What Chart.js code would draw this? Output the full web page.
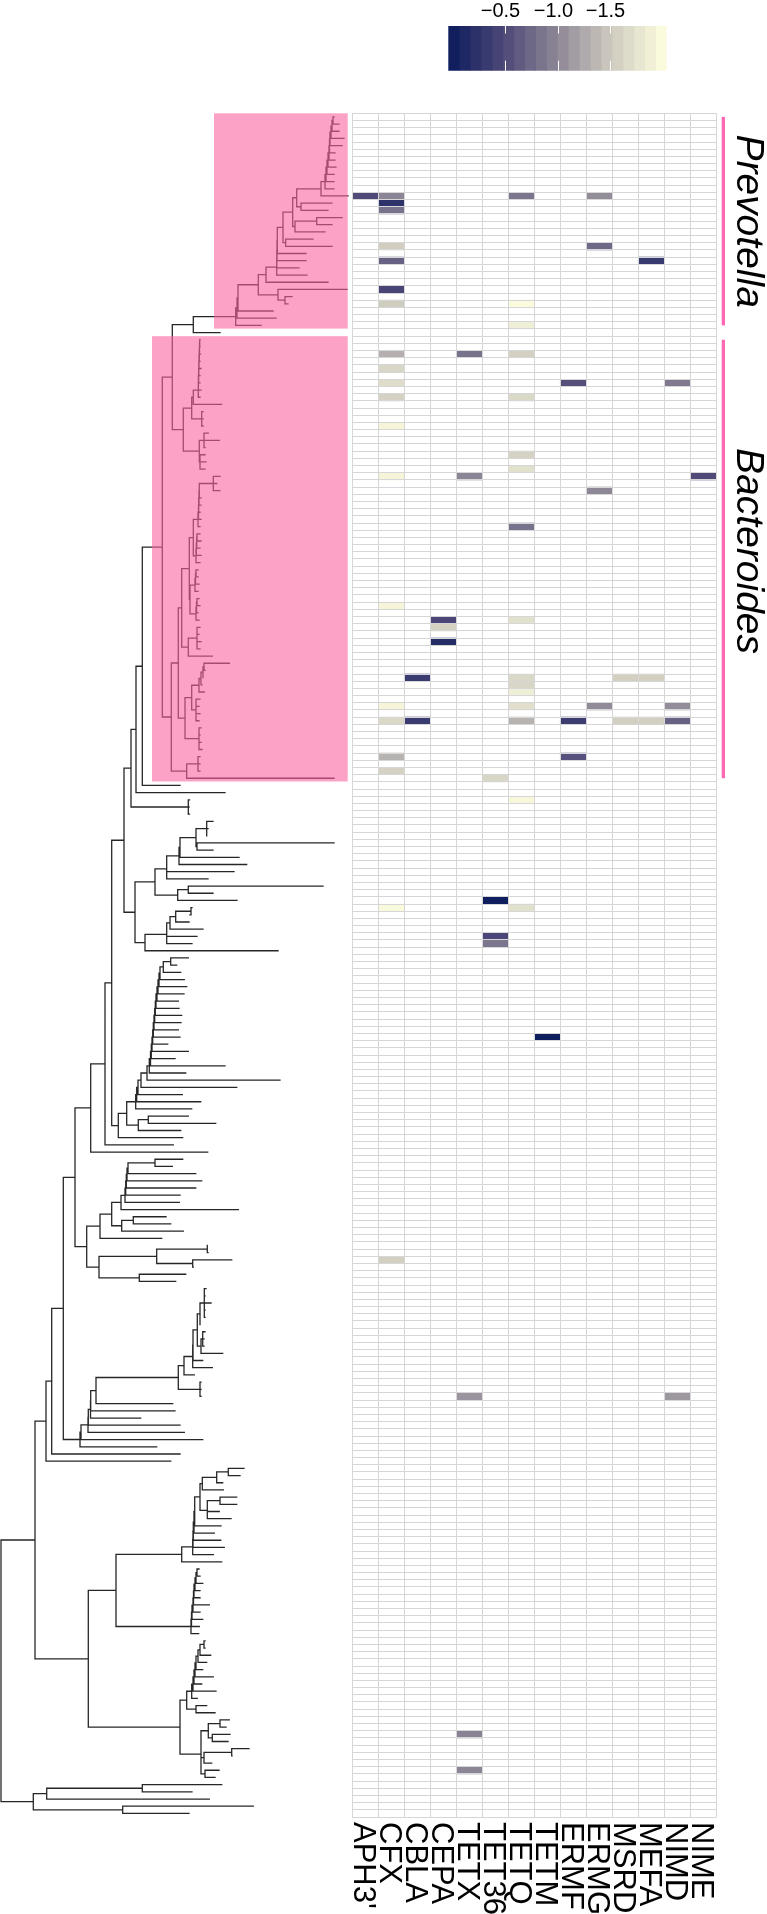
<!DOCTYPE html>
<html>
<head>
<meta charset="utf-8">
<script src="https://cdn.jsdelivr.net/npm/chart.js@4/dist/chart.umd.min.js"></script>
<style>
  html, body { margin: 0; padding: 0; background: #fff; }
  #wrap { position: relative; width: 767px; height: 1914px; overflow: hidden; background: #fff; }
  canvas { position: absolute; }
</style>
</head>
<body>
<div id="wrap">
  <canvas id="tree" width="352" height="1914" style="left:0;top:0;width:352px;height:1914px"></canvas>
  <canvas id="heat" width="427" height="1914" style="left:340px;top:0;width:427px;height:1914px"></canvas>
  <canvas id="cbar" width="240" height="80" style="left:440px;top:0;width:240px;height:80px"></canvas>
</div>
<script>
// ---------------- DATA ----------------
const genes = ["APH3'", "CFX", "CBLA", "CEPA", "TETX", "TET36", "TETQ", "TETM", "ERMF", "ERMG", "MSRD", "MEFA", "NIMD", "NIME"];
const nRows = 237;

// non-empty heatmap cells: row (tree leaf order), gene index, value
const cellRow   = [11, 11, 11, 11, 12, 13, 18, 18, 20, 20, 24, 26, 26, 29, 33, 33, 33, 35, 37, 37, 37, 39, 39, 43, 47, 49, 50, 50, 50, 52, 57, 68, 70, 70, 71, 73, 78, 78, 78, 78, 79, 80, 82, 82, 82, 82, 84, 84, 84, 84, 84, 84, 84, 89, 89, 91, 92, 95, 109, 110, 110, 114, 115, 128, 159, 178, 178, 225, 230];
const cellGene  = [0, 1, 6, 9, 1, 1, 1, 9, 1, 11, 1, 1, 6, 6, 1, 4, 6, 1, 1, 8, 12, 1, 6, 1, 6, 6, 1, 4, 13, 9, 6, 1, 3, 6, 3, 3, 2, 6, 10, 11, 6, 6, 1, 6, 9, 12, 1, 2, 6, 8, 10, 11, 12, 1, 8, 1, 5, 6, 5, 1, 6, 5, 5, 7, 1, 4, 12, 4, 4];
const cellValue = [-0.50, -0.98, -0.85, -1.04, -0.23, -0.83, -1.54, -0.75, -0.69, -0.31, -0.44, -1.52, -2.00, -1.87, -1.31, -0.83, -1.56, -1.62, -1.69, -0.54, -0.88, -1.58, -1.64, -1.94, -1.58, -1.73, -1.94, -0.98, -0.50, -1.00, -0.83, -1.94, -0.46, -1.73, -1.58, -0.17, -0.33, -1.64, -1.56, -1.56, -1.62, -1.87, -1.94, -1.71, -1.02, -1.04, -1.64, -0.33, -1.33, -0.36, -1.56, -1.56, -0.69, -1.33, -0.56, -1.58, -1.62, -1.96, 0.00, -1.98, -1.73, -0.46, -0.85, 0.00, -1.56, -1.10, -1.12, -0.96, -0.98];

// colour scale
const valueMax = 0.04, valueMin = -2.04;
const colorTicks = [-0.5, -1.0, -1.5];
const colorBins = 20;

// clades
const cladeNames = ['Prevotella', 'Bacteroides'];
const cladeRows = [[0, 29], [31, 92]];
const cladeDepth = [214, 152];       // tree depth where highlight starts
const cladeLabelRow = [14.5, 60.4];

// Tree: depth-annotated Newick (each leaf number / number after ')' = node depth)
const tU = "((((((((((334,339)333,339)332,344)331,342)330,335)329.5,335)329,336)328,334)327,334)326,334)325";
const tY = `((${tU},348)321,(332,328)301)296.7`;
const tX = `(${tY},((342,332)316.7,325)295)292.7`;
const tZ = `(${tX},(313,332)285.7)283`;
const tS = `((((${tZ},306)277.3,306)277,299)276.8,307)276.7`;
const tP4 = `((${tS},328)266,(347,(292,288)285)278)258.3`;
const tA = `((((${tP4},273)238,276)237,261)235.7,220)193.3`;
const tC8 = "((((((((200,200)199.7,200.5)199.5,200)199.3,201)199,200)198.8,200)198.6,201)198.4,200)198.3";
const tE = `(((${tC8},221.7)193.3,(203,203,203)201.7)191.7,((208.3,219.3,205)204,(205,206,205)200)199.3)183.3`;
const tB = `(${tA},${tE})172.3`;
const tF1a1 = "(220,216.7,220)213.3";
const tD5 = `(((((${tF1a1},201)199.3,201)199,200)198.7,201)198.5,200)198`;
const tE4 = "((((200,201)197,200)196.7,201)196.3,200)196";
const tF1b = "((((198,198)196,199)195.5,198)195,(((199,200)197,198)196.5,199)196)190";
const tF = `(((${tD5},${tE4})193.3,${tF1b})189.3,((200,199,201,200)197,212.3)188.3)181.7`;
const tG = "((((((229.3,205)204,203)203,202)201,204.3)199,(200,199,200,199)196)191.7,(201,200,201,202)199)185";
const tD = `((${tF},${tG})178.3,((200,200,200)198,334)186.7)171.3`;
const tC = `(${tB},${tD})162.3`;
const tK = `(((${tC},180)142.3,225)136,(189.5,189,189.5)188.3)131`;
const tN = "((((((213,208,207)206.7,(334,213)197)196,239)180,246.7)179,234,208)166.7,((323,213)188.3,237)177.7)155";
const tO = "(((((192,190)191,189)175.7,203)170,197,192)166.7,278)145";
const tL = `(${tK},(${tN},${tO})135)124`;
const tK21 = "(".repeat(21) + "188.3,176.7)170.7,180.7)163.3,184.3)160,186.7)159,184)158,178.3)157,179)156,181.7)155.3,181)154.7,178.3)154,180)153.3,167.7)152.7,188.3)152,175)151.3,225)150.5,185.7)149.3,280)147,236.7)141,182.3)138,200.7)136.7,191.7)135.7";
const t355 = `((${tK21},((188.3,215.7)148.3,180.7)138.3)126.7,182.7)118.3`;
const t272 = `(((${tL},${t355})111.7,173.3)105,207.7)90.7`;
const tM5 = "((((((182.7,172.3)155,195.7)128,201.7)127,195.7)126.3,180)125.7,179.3)125";
const t260 = `((((${tM5},238.3)121,((166,170.7)133.3,183.3)121.7)111.7,161.7)100,(((207.7,208)207.3,(231.7,193.3)192.7)156.7,(185.7,175.7)139.3)99)86.7`;
const t225 = `(${t272},${t260})75`;
const t592 = "(((206,205,211,205,205)204.3,200.5)200,((205,204,204)202.7,222.7)201)197.3";
const t535 = `((((${t592},202.7)193,212.3)192.7,194.3)184,(201,201,201)200)178.3`;
const t240 = `(((((((${t535},172.7)96,175)90.7,140.7)90.5,180)88.3,184.3)88,202.7)81,156.7)80`;
const t138 = `(((${t225},${t240})63.3,180)51.7,170.7)46`;
const tQ5 = "((((244,240)228.3,222.7)216.7,223.3)202.3,((236.7,236.7)220,219.3,231)207.3)200";
const tQ1a = `((((((${tQ5},221)194.7,214.3)194,220.7)193.3,224.3)193,213.3)192.7,221.7)181.7`;
const tQ1b = "(".repeat(9) + "199,200)197,202.7)196,200)195,200)194,209.3)193.5,200)193,202.7)192,199.3)191.5,198.7)191";
const tQ2a = "(" + "(".repeat(8) + "205,205)204,210.7)200,206.7)198,202.7)196,213.3)195,201.7)194,216)193,197.3)191.7,(206.7,215)196)186.7";
const tQ2b = "(((229.3,226)220,(230,228)212.3)208.3,((249,232)231.7,211.7)204,(219,215)205)201";
const t265 = `((${tQ1a},${tQ1b})116,(${tQ2a},${tQ2b})180)88.3`;
const t100 = "(((221.7,192)142.3,209.3)46.7,(253.3,189)122.7)33.3";
const treeNewick = `((${t138},${t265})35,${t100})1`;

// ---------------- STYLE ----------------
const FONT = "'Liberation Sans', Arial, Helvetica, sans-serif";
Chart.defaults.font.family = FONT;
const paletteStops = ['#0a1a5c', '#4d4878', '#8e8796', '#cfccc0', '#ffffe0'];
const gridColor = '#d6d6d6';
const treeColor = '#262626';
const boxFill = 'rgba(250,100,160,0.6)';
const barPink = '#ff69b4';

function hexRgb(h) { return [1, 3, 5].map(i => parseInt(h.slice(i, i + 2), 16)); }
const stopRgb = paletteStops.map(hexRgb);
function colorAtT(t) {
  t = Math.max(0, Math.min(1, t));
  const seg = t * (stopRgb.length - 1);
  const i = Math.min(Math.floor(seg), stopRgb.length - 2);
  const f = seg - i;
  const c = stopRgb[i].map((v, k) => Math.round(v + (stopRgb[i + 1][k] - v) * f));
  return `rgb(${c[0]},${c[1]},${c[2]})`;
}
const colorOf = v => colorAtT((valueMax - v) / (valueMax - valueMin));

// ---------------- TREE ----------------
function parseDepthNewick(str) {
  const s = str.replace(/\s+/g, '');
  let i = 0;
  const readNum = () => { const j = i; while (i < s.length && /[0-9.\-]/.test(s[i])) i++; return parseFloat(s.slice(j, i)); };
  const readNode = () => {
    if (s[i] === '(') {
      i++;
      const kids = [];
      for (;;) {
        kids.push(readNode());
        if (s[i] === ',') { i++; continue; }
        i++;
        break;
      }
      return { x: readNum(), kids };
    }
    return { x: readNum(), kids: null };
  };
  return readNode();
}
const treeRoot = parseDepthNewick(treeNewick);
let leafCounter = 0;
(function layout(n) {
  if (!n.kids) { n.y = leafCounter++; return; }
  n.kids.forEach(layout);
  n.y = n.kids.reduce((a, k) => a + k.y, 0) / n.kids.length;
})(treeRoot);

const treePts = [];
(function collect(n) {
  if (!n.kids) return;
  const ys = n.kids.map(k => k.y);
  treePts.push({ x: n.x, y: Math.min(...ys) }, { x: n.x, y: Math.max(...ys) }, { x: n.x, y: null });
  n.kids.forEach(k => {
    treePts.push({ x: n.x, y: k.y }, { x: k.x, y: k.y }, { x: k.x, y: null });
    collect(k);
  });
})(treeRoot);

const cladeBoxes = {
  id: 'cladeBoxes',
  afterDatasetsDraw(chart) {
    const { ctx, scales: { x, y } } = chart;
    ctx.save();
    ctx.fillStyle = boxFill;
    cladeNames.forEach((_, k) => {
      const x1 = x.getPixelForValue(cladeDepth[k]);
      const x2 = x.getPixelForValue(347.7);
      const y1 = y.getPixelForValue(cladeRows[k][0] - 0.5);
      const y2 = y.getPixelForValue(cladeRows[k][1] + 0.45);
      ctx.fillRect(x1, y1, x2 - x1, y2 - y1);
    });
    ctx.restore();
  }
};

const TOP = 113.3, BOTTOM = 1817;

new Chart(document.getElementById('tree'), {
  type: 'scatter',
  data: { datasets: [{
    data: treePts, showLine: true, spanGaps: false,
    borderColor: treeColor, borderWidth: 1.3, borderCapStyle: 'square',
    pointRadius: 0, pointHoverRadius: 0, tension: 0, fill: false
  }] },
  options: {
    responsive: false, animation: false, devicePixelRatio: 1, events: [],
    layout: { padding: { top: TOP, bottom: 1914 - BOTTOM, left: 0, right: 0 } },
    plugins: { legend: { display: false }, tooltip: { enabled: false } },
    scales: {
      x: { type: 'linear', display: false, min: 0, max: 352 },
      y: { type: 'linear', display: false, min: -0.5, max: nRows - 0.5, reverse: true }
    }
  },
  plugins: [cladeBoxes]
});

// ---------------- HEATMAP ----------------
const rowLabels = Array.from({ length: nRows }, (_, i) => String(i));
const cells = cellRow.map((r, i) => ({ y: String(r), x: [cellGene[i], cellGene[i] + 1] }));
const cellColors = cellValue.map(colorOf);

const heatDecor = {
  id: 'heatDecor',
  afterDraw(chart) {
    const { ctx, scales: { x, y }, chartArea } = chart;
    ctx.save();
    ctx.fillStyle = '#000';
    ctx.font = `31px ${FONT}`;
    ctx.textAlign = 'left';
    ctx.textBaseline = 'alphabetic';
    genes.forEach((g, i) => {
      const cx = x.getPixelForValue(i + 0.5);
      ctx.save();
      ctx.translate(cx - 11.5, chartArea.bottom + 5);
      ctx.rotate(Math.PI / 2);
      ctx.fillText(g, 0, 0);
      ctx.restore();
    });
    cladeNames.forEach((name, k) => {
      const y1 = y.getPixelForValue(cladeRows[k][0]);
      const y2 = y.getPixelForValue(cladeRows[k][1]);
      ctx.fillStyle = barPink;
      ctx.fillRect(chartArea.right + 5.4, y1, 3.3, y2 - y1);
      ctx.fillStyle = '#000';
      ctx.font = `italic 39px ${FONT}`;
      ctx.textAlign = 'center';
      ctx.save();
      ctx.translate(chartArea.right + 20.7, y.getPixelForValue(cladeLabelRow[k]));
      ctx.rotate(Math.PI / 2);
      ctx.fillText(name, 0, 0);
      ctx.restore();
    });
    ctx.restore();
  }
};

new Chart(document.getElementById('heat'), {
  type: 'bar',
  data: { labels: rowLabels, datasets: [{
    data: cells, backgroundColor: cellColors, borderWidth: 0,
    barPercentage: 1, categoryPercentage: 1
  }] },
  options: {
    indexAxis: 'y', responsive: false, animation: false, devicePixelRatio: 1, events: [],
    layout: { padding: { left: 352.3 - 340, right: 767 - 716.3, top: TOP, bottom: 1914 - BOTTOM } },
    plugins: { legend: { display: false }, tooltip: { enabled: false } },
    scales: {
      x: {
        type: 'linear', min: 0, max: genes.length, position: 'bottom',
        ticks: { display: false, stepSize: 1, maxTicksLimit: 100 },
        grid: { color: gridColor, lineWidth: 1, drawTicks: false, z: 1 },
        border: { display: false },
        afterFit(s) { s.height = 0; }
      },
      y: {
        type: 'category', offset: true,
        ticks: { display: false, autoSkip: false },
        grid: { color: gridColor, lineWidth: 1, drawTicks: false, offset: true, z: 1 },
        border: { display: false },
        afterFit(s) { s.width = 0; }
      }
    }
  },
  plugins: [heatDecor]
});

// ---------------- COLOUR BAR ----------------
const binStep = (valueMax - valueMin) / colorBins;
const cbarDatasets = Array.from({ length: colorBins }, (_, k) => ({
  data: [[valueMax - k * binStep, valueMax - (k + 1) * binStep]],
  backgroundColor: colorAtT((k + 0.5) / colorBins),
  borderWidth: 0, barPercentage: 1, categoryPercentage: 1, grouped: false
}));

const cbarDecor = {
  id: 'cbarDecor',
  afterDraw(chart) {
    const { ctx, scales: { x }, chartArea: { top, bottom } } = chart;
    ctx.save();
    colorTicks.forEach(v => {
      const px = Math.round(x.getPixelForValue(v)) + 0.5;
      ctx.strokeStyle = '#ffffff';
      ctx.lineWidth = 1;
      ctx.beginPath();
      ctx.moveTo(px, top); ctx.lineTo(px, top + 7.5);
      ctx.moveTo(px, bottom - 10); ctx.lineTo(px, bottom);
      ctx.stroke();
      ctx.fillStyle = '#000';
      ctx.font = `20px ${FONT}`;
      ctx.textAlign = 'center';
      ctx.textBaseline = 'alphabetic';
      ctx.fillText(v.toFixed(1).replace('-', '\u2212'), px - 5, top - 9.3);
    });
    ctx.restore();
  }
};

new Chart(document.getElementById('cbar'), {
  type: 'bar',
  data: { labels: ['value'], datasets: cbarDatasets },
  options: {
    indexAxis: 'y', responsive: false, animation: false, devicePixelRatio: 1, events: [],
    layout: { padding: { left: 448.3 - 440, right: 680 - 666.7, top: 26, bottom: 80 - 70.7 } },
    plugins: { legend: { display: false }, tooltip: { enabled: false } },
    scales: {
      x: { type: 'linear', display: false, min: valueMin, max: valueMax, reverse: true },
      y: { type: 'category', display: false }
    }
  },
  plugins: [cbarDecor]
});
</script>
</body>
</html>
